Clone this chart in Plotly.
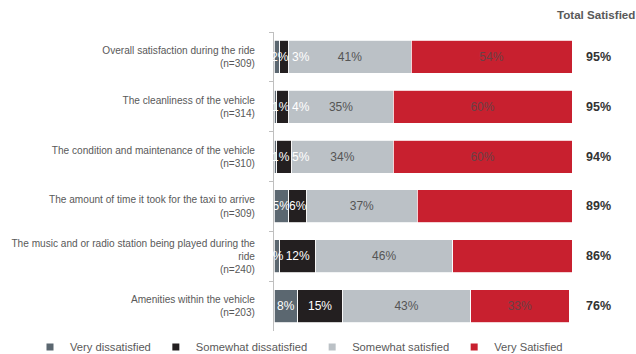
import plotly.graph_objects as go

categories = [
    "Overall satisfaction during the ride<br>(n=309)",
    "The cleanliness of the vehicle<br>(n=314)",
    "The condition and maintenance of the vehicle<br>(n=310)",
    "The amount of time it took for the taxi to arrive<br>(n=309)",
    "The music and or radio station being played during the<br>ride<br>(n=240)",
    "Amenities within the vehicle<br>(n=203)",
]
very_dissatisfied = [2, 1, 1, 5, 2, 8]
somewhat_dissatisfied = [3, 4, 5, 6, 12, 15]
somewhat_satisfied = [41, 35, 34, 37, 46, 43]
very_satisfied = [54, 60, 60, 53, 41, 33]
total_satisfied = [95, 95, 94, 89, 86, 76]

series = [
    ("Very dissatisfied", very_dissatisfied, "#5b6770", "#ffffff"),
    ("Somewhat dissatisfied", somewhat_dissatisfied, "#231f20", "#ffffff"),
    ("Somewhat satisfied", somewhat_satisfied, "#bbc1c6", "#555555"),
    ("Very Satisfied", very_satisfied, "#c8202f", "#6a4046"),
]

# label nudges (pixels) for crowded small segments: (row, series) -> xshift
label_nudge = {(0, 0): 3, (0, 1): 17, (1, 0): 6, (1, 1): 18,
               (2, 0): 6, (2, 1): 17, (4, 0): -2}

FONT = "Liberation Sans, Arial, sans-serif"
fig = go.Figure()
base = [0] * len(categories)
for si, (name, vals, color, tcolor) in enumerate(series):
    texts = []
    for ri, v in enumerate(vals):
        if (ri, si) in label_nudge:
            texts.append("")
            fig.add_annotation(
                x=base[ri] + v / 2, y=categories[ri], xref="x", yref="y",
                text=f"{v}%", showarrow=False, xshift=label_nudge[(ri, si)],
                font=dict(size=12, color=tcolor, family=FONT),
            )
        else:
            texts.append(f"{v}%")
    fig.add_trace(go.Bar(
        y=categories, x=vals, orientation="h", name=name,
        marker=dict(color=color, line=dict(color="#ffffff", width=0.8)),
        text=texts, textposition="inside",
        insidetextanchor="middle", textangle=0,
        textfont=dict(color=tcolor, size=12, family=FONT),
        showlegend=False, cliponaxis=False,
    ))
    fig.add_trace(go.Scatter(
        x=[None], y=[None], mode="markers", name=name,
        marker=dict(symbol="square", size=7, color=color),
        showlegend=True,
    ))
    base = [b + v for b, v in zip(base, vals)]

for cat, t in zip(categories, total_satisfied):
    fig.add_annotation(
        x=1.04, xref="paper", y=cat, yref="y", text=f"<b>{t}%</b>",
        showarrow=False, xanchor="left",
        font=dict(size=12.5, color="#333333", family=FONT),
    )
fig.add_annotation(
    x=1.0, xref="paper", y=1 + (32 - 14) / 299, yref="paper", yanchor="middle",
    text="<b>Total Satisfied</b>", showarrow=False, xanchor="left",
    xshift=-17,
    font=dict(size=11.6, color="#595959", family=FONT),
)
fig.update_layout(
    width=636, height=354,
    margin=dict(l=274, r=64, t=32, b=23, autoexpand=False),
    plot_bgcolor="#ffffff", paper_bgcolor="#ffffff",
    barmode="stack", bargap=0.34,
    font=dict(family=FONT, color="#595959"),
    uniformtext=dict(minsize=12, mode="show"),
    legend=dict(
        orientation="h", xref="paper", x=(30 - 274) / 298, xanchor="left",
        yref="paper", y=-(347 - 331) / 299, yanchor="middle",
        font=dict(size=11.2, color="#595959", family=FONT),
        itemwidth=30, tracegroupgap=0, traceorder="normal",
    ),
    xaxis=dict(range=[0, 100], visible=False, fixedrange=True),
    yaxis=dict(
        autorange="reversed", showline=True, linecolor="#bfbfbf", linewidth=1,
        ticks="outside", ticklen=4, tickcolor="#bfbfbf", tickson="boundaries",
        ticklabelstandoff=16, automargin=False,
        tickfont=dict(size=10.1, color="#595959", family=FONT),
        showgrid=False,
    ),
)
fig.write_html("out.html")
